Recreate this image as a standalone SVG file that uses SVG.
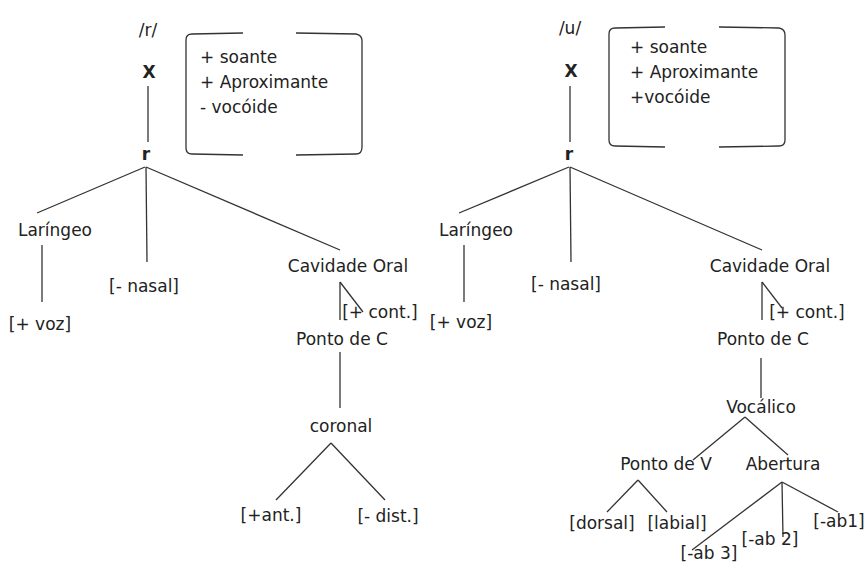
<svg xmlns="http://www.w3.org/2000/svg" width="865" height="565" viewBox="0 0 865 565">
<style>
text{font-family:"DejaVu Sans","Liberation Sans",sans-serif;font-size:17px;fill:#222;text-anchor:middle}
.b{font-weight:bold}
.l{text-anchor:start}
.c line,.c path{stroke:#333;stroke-width:1.3;fill:none}
</style>
<rect width="865" height="565" fill="#fff"/>
<g class="c" id="connectors">
<line x1="148" y1="86" x2="148" y2="142"/>
<line x1="145" y1="167" x2="37" y2="213"/>
<line x1="146" y1="167" x2="147" y2="262"/>
<line x1="146" y1="167" x2="340" y2="250"/>
<line x1="42" y1="245" x2="42" y2="302"/>
<line x1="340" y1="282" x2="340" y2="320"/>
<line x1="340" y1="282" x2="363" y2="312"/>
<line x1="340" y1="352" x2="340" y2="408"/>
<line x1="331" y1="443" x2="276" y2="500"/>
<line x1="331" y1="443" x2="385" y2="500"/>
<path d="M243,33 L192,34 Q186,34 186,40 L186,148 Q186,154 192,154 L243,155"/>
<path d="M296,33 L356,34 Q362,35 362,41 L362,147 Q362,154 356,154 L296,155"/>
<line x1="570" y1="86" x2="570" y2="142"/>
<line x1="569" y1="167" x2="459" y2="213"/>
<line x1="570" y1="167" x2="571" y2="262"/>
<line x1="570" y1="167" x2="762" y2="250"/>
<line x1="464" y1="245" x2="464" y2="302"/>
<line x1="762" y1="282" x2="762" y2="320"/>
<line x1="762" y1="282" x2="782" y2="308"/>
<line x1="761" y1="358" x2="761" y2="398"/>
<line x1="745" y1="417" x2="693" y2="460"/>
<line x1="745" y1="417" x2="788" y2="455"/>
<line x1="638" y1="480" x2="607" y2="512"/>
<line x1="638" y1="480" x2="667" y2="512"/>
<line x1="782" y1="482" x2="692" y2="550"/>
<line x1="782" y1="482" x2="783" y2="537"/>
<line x1="782" y1="482" x2="838" y2="512"/>
<path d="M665,27 L615,28 Q609,28 609,34 L609,140 Q609,146 615,146 L665,147"/>
<path d="M719,27 L779,28 Q785,29 785,35 L785,140 Q785,146 779,146 L719,147"/>
</g>
<g id="left-tree">
<g id="n-r-phoneme"><text x="148" y="36">/r/</text></g>
<g id="n-X1"><text class="b" x="149" y="78">X</text></g>
<g id="n-feat1"><text class="l" x="200" y="63">+ soante</text><text class="l" x="200" y="88">+ Aproximante</text><text class="l" x="200" y="113">- vocóide</text></g>
<g id="n-r1"><text class="b" x="146" y="160">r</text></g>
<g id="n-lar1"><text x="55" y="236">Laríngeo</text></g>
<g id="n-voz1"><text x="40" y="330">[+ voz]</text></g>
<g id="n-nasal1"><text x="144" y="292">[- nasal]</text></g>
<g id="n-cav1"><text x="348" y="272">Cavidade Oral</text></g>
<g id="n-cont1"><text x="380" y="318">[+ cont.]</text></g>
<g id="n-pc1"><text x="342" y="345">Ponto de C</text></g>
<g id="n-coronal"><text x="341" y="432">coronal</text></g>
<g id="n-ant"><text x="271" y="521">[+ant.]</text></g>
<g id="n-dist"><text x="388" y="522">[- dist.]</text></g>
</g>
<g id="right-tree">
<g id="n-u-phoneme"><text x="570" y="34">/u/</text></g>
<g id="n-X2"><text class="b" x="571" y="77">X</text></g>
<g id="n-feat2"><text class="l" x="630" y="53">+ soante</text><text class="l" x="630" y="78">+ Aproximante</text><text class="l" x="630" y="103">+vocóide</text></g>
<g id="n-r2"><text class="b" x="569" y="160">r</text></g>
<g id="n-lar2"><text x="476" y="236">Laríngeo</text></g>
<g id="n-voz2"><text x="461" y="328">[+ voz]</text></g>
<g id="n-nasal2"><text x="566" y="290">[- nasal]</text></g>
<g id="n-cav2"><text x="770" y="272">Cavidade Oral</text></g>
<g id="n-cont2"><text x="807" y="318">[+ cont.]</text></g>
<g id="n-pc2"><text x="763" y="345">Ponto de C</text></g>
<g id="n-voc"><text x="761" y="413">Vocálico</text></g>
<g id="n-pv"><text x="666" y="470">Ponto de V</text></g>
<g id="n-ab"><text x="783" y="470">Abertura</text></g>
<g id="n-dorsal"><text x="602" y="529">[dorsal]</text></g>
<g id="n-labial"><text x="677" y="529">[labial]</text></g>
<g id="n-ab1"><text x="839" y="527">[-ab1]</text></g>
<g id="n-ab2"><text x="770" y="545">[-ab 2]</text></g>
<g id="n-ab3"><text x="709" y="559">[-ab 3]</text></g>
</g>
</svg>
